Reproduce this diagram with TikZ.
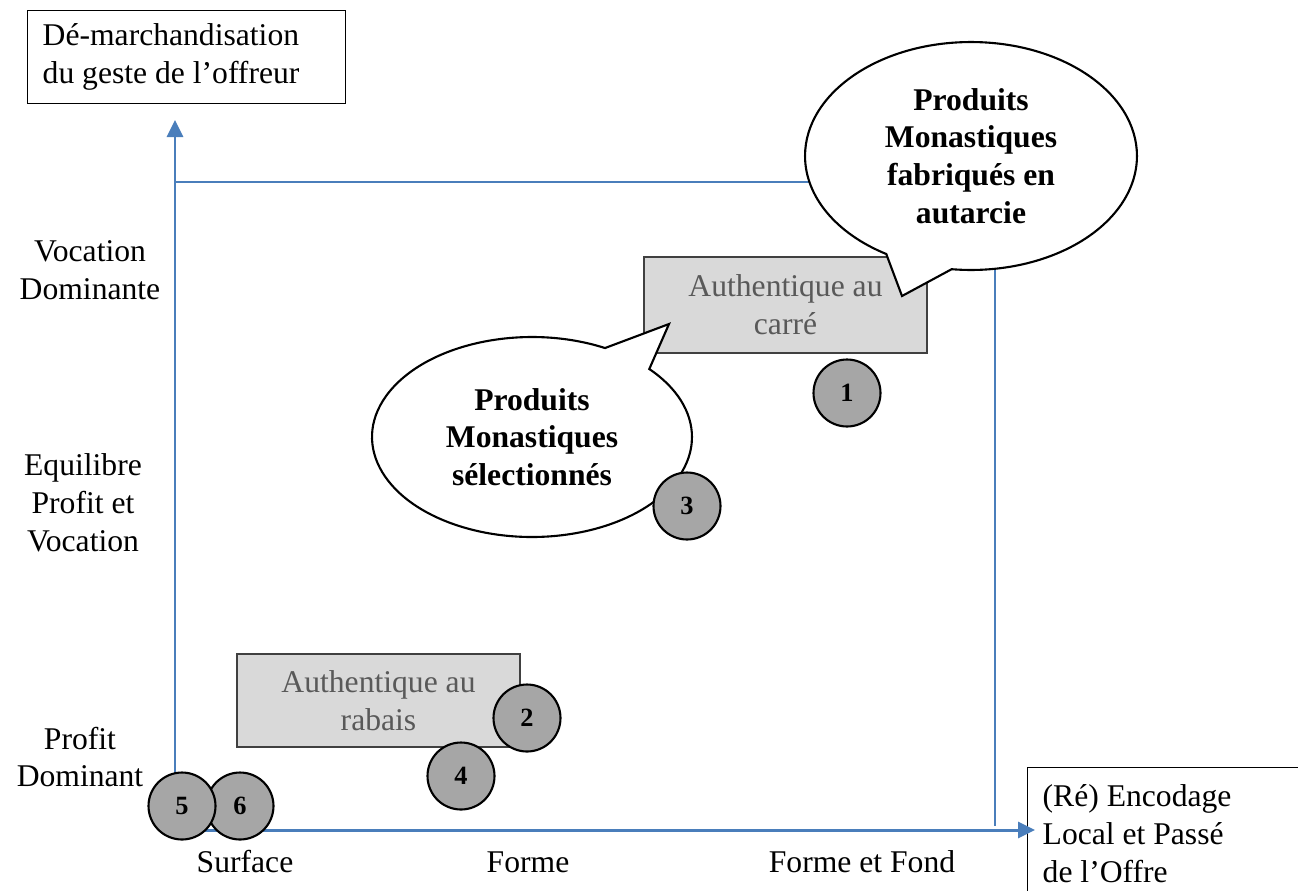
\documentclass[tikz,border=0pt]{standalone}
\usepackage{fontspec}
\setmainfont{Liberation Serif}
\usetikzlibrary{arrows.meta,positioning,shapes.geometric,shapes.callouts}

\definecolor{axisblue}{HTML}{4A7EBB}
\definecolor{boxgrey}{HTML}{D9D9D9}
\definecolor{textgrey}{HTML}{595959}
\definecolor{dotgrey}{HTML}{A6A6A6}

\begin{document}
\begin{tikzpicture}[x=0.02cm, y=-0.02cm, >={Triangle[length=3.4mm,width=3.2mm]},
  font=\fontsize{18}{21.5}\selectfont,
  axis/.style={draw=axisblue, line width=1.7pt},
  frameline/.style={draw=axisblue, line width=1pt},
  lab/.style={align=center, inner sep=0pt},
  titlebox/.style={draw, line width=0.8pt, align=flush left, inner xsep=0.3cm, inner ysep=0pt},
  greybox/.style={draw=black!75, fill=boxgrey, text=textgrey, align=center, line width=0.8pt,
    minimum width=5.66cm},
  bubble/.style={ellipse callout, draw, fill=white, line width=1.2pt, align=center, inner sep=0pt,
    font=\fontsize{18}{21.5}\selectfont\bfseries},
  dot/.style={circle, draw, fill=dotgrey, line width=1.2pt, minimum size=1.34cm, inner sep=0pt,
    font=\fontsize{15}{15}\selectfont\bfseries}]
  \useasboundingbox (0,0) rectangle (1298,890);

  % boites des axes
  \node[titlebox, text width=5.76cm, minimum height=1.86cm, anchor=north west] (ytitle) at (27,10)
    {Dé-marchandisation\\du geste de l’offreur};
  \node[titlebox, text width=5.2cm, minimum height=2.64cm, anchor=north west] (xtitle) at (1027,767)
    {(Ré) Encodage\\Local et Passé\\de l’Offre};

  % cadre et axes
  \coordinate (origin) at (175,830);
  \coordinate (ytop) at (175,120);
  \coordinate (xend) at (1035,830);
  \coordinate (fa) at (175,182);
  \coordinate (fb) at (995,182);
  \coordinate (fc) at (995,826);
  \draw[frameline] (fa) -- (fb) -- (fc);
  \draw[axis,->] (origin) -- (ytop);
  \draw[axis,->] (origin) -- (xend);

  % graduations
  \node[lab] (vocdom) at (90,270) {Vocation\\Dominante};
  \node[lab] (equil) at (83,503) {Equilibre\\Profit et\\Vocation};
  \node[lab] (profdom) at (80,757) {Profit\\Dominant};
  \node[lab] (surface) at (245,862) {Surface};
  \node[lab] (forme) at (528,862) {Forme};
  \node[lab] (formefond) at (862,862) {Forme et Fond};

  % zones
  \node[greybox, minimum height=1.92cm] (carre) at (785.5,305) {Authentique au\\carré};
  \node[greybox, minimum height=1.86cm] (rabais) at (378.5,700.5) {Authentique au\\rabais};

  % bulles
  \node[bubble, minimum width=6.64cm, minimum height=4.56cm, callout absolute pointer={(902,296)},
    callout pointer arc=24] (autarcie) at (971,156) {Produits\\Monastiques\\fabriqués en\\autarcie};
  \node[bubble, minimum width=6.4cm, minimum height=4.0cm, callout absolute pointer={(669,324)},
    callout pointer arc=20] (selection) at (532,437) {Produits\\Monastiques\\sélectionnés};

  % positions
  \node[dot] (p1) at (847,393) {1};
  \node[dot] (p2) at (527,718) {2};
  \node[dot] (p3) at (687,506) {3};
  \node[dot] (p4) at (461,776) {4};
  \node[dot] (p6) at (240,806) {6};
  \node[dot] (p5) at (182,806) {5};
\end{tikzpicture}
\end{document}
